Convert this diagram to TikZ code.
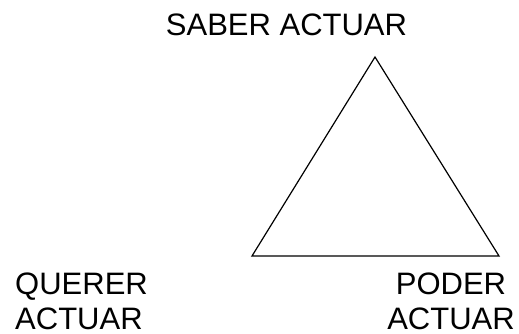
\documentclass[tikz,border=0pt]{standalone}
\usepackage{fontspec}
\setmainfont{Liberation Sans}
\begin{document}
\begin{tikzpicture}[x=1pt,y=1pt,
  lbl/.style={inner sep=0pt,font=\fontsize{31}{35}\selectfont}]
\useasboundingbox (0,0) rectangle (519,334);
\coordinate (apex) at (375,277);
\coordinate (bl) at (252,78);
\coordinate (br) at (499,78);
\draw[line width=1.2pt,line join=miter] (apex) -- (bl) -- (br) -- cycle;
\node[lbl,anchor=base] (saber) at (286.5,298) {SABER ACTUAR};
\node[lbl,anchor=base west,align=left] (querer) at (15,4) {QUERER\\ACTUAR};
\node[lbl,anchor=base,align=center] (poder) at (451,4) {PODER\\ACTUAR};
\end{tikzpicture}
\end{document}
